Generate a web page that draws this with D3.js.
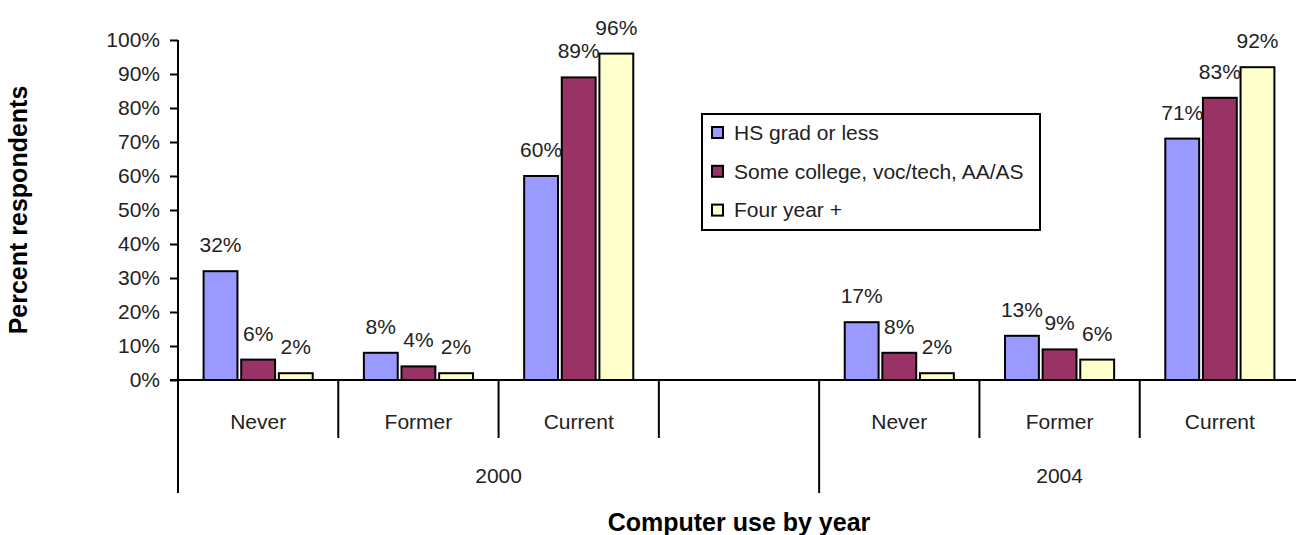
<!DOCTYPE html>
<html>
<head>
<meta charset="utf-8">
<script src="https://cdn.jsdelivr.net/npm/d3@7"></script>
<style>
  html, body { margin: 0; padding: 0; background: #fff; }
  svg { display: block; font-family: "Liberation Sans", Arial, sans-serif; }
</style>
</head>
<body>
<svg id="chart" width="1296" height="535"></svg>
<script>
// ---- data ----
const years = ["2000", "2004"];
const usage = ["Never", "Former", "Current"];
const series = ["HS grad or less", "Some college, voc/tech, AA/AS", "Four year +"];
const colors = ["#9999FF", "#993366", "#FFFFCC"];
// values in percent, per series, in order 2000 Never/Former/Current, 2004 Never/Former/Current
const hsGrad      = [32, 8, 60, 17, 13, 71];
const someCollege = [6, 4, 89, 8, 9, 83];
const fourYear    = [2, 2, 96, 2, 6, 92];
const yTicks = [0, 10, 20, 30, 40, 50, 60, 70, 80, 90, 100];

// ---- layout ----
const svg = d3.select("#chart");
const plotL = 178, plotR = 1300, plotT = 40, plotB = 380;

// 7 slots: 3 for 2000, 1 empty, 3 for 2004
const slots = [];
years.forEach((yr, yi) => {
  usage.forEach(u => slots.push({ key: yr + "-" + u, year: yr, usage: u }));
  if (yi === 0) slots.push({ key: "gap", year: yr, usage: "" });
});
const x = d3.scaleBand().domain(slots.map(d => d.key)).range([plotL, plotR]).padding(0);
const xs = d3.scaleBand().domain(series).range([0, x.bandwidth()]).paddingInner(0.1).paddingOuter(0.68);
const y = d3.scaleLinear().domain([0, 100]).range([plotB, plotT]);

const allSeries = [hsGrad, someCollege, fourYear];
const dataSlots = slots.filter(s => s.key !== "gap");
const bars = [];
allSeries.forEach((vals, si) => {
  vals.forEach((v, i) => bars.push({ slot: dataSlots[i].key, series: series[si], color: colors[si], value: v }));
});

// ---- y axis ----
const yAxis = d3.axisLeft(y).tickValues(yTicks).tickSize(8).tickPadding(10).tickFormat(d => d + "%");
const gy = svg.append("g").attr("transform", `translate(${plotL},0)`).call(yAxis);
gy.select(".domain").attr("stroke", "#000").attr("stroke-width", 2).attr("d", `M0,${plotT}V${plotB}`);
gy.selectAll(".tick line").attr("stroke", "#000").attr("stroke-width", 2);
gy.selectAll(".tick text").attr("fill", "#222").style("font-size", "21px")
  .style("font-family", "'Liberation Sans', Arial, sans-serif");

// ---- bars ----
svg.append("g").selectAll("rect").data(bars).join("rect")
  .attr("x", d => x(d.slot) + xs(d.series))
  .attr("y", d => y(d.value))
  .attr("width", xs.bandwidth())
  .attr("height", d => y(0) - y(d.value))
  .attr("fill", d => d.color)
  .attr("stroke", "#000")
  .attr("stroke-width", 2);

// data labels
svg.append("g").selectAll("text").data(bars).join("text")
  .attr("x", d => x(d.slot) + xs(d.series) + xs.bandwidth() / 2)
  .attr("y", d => y(d.value) - 19)
  .attr("text-anchor", "middle")
  .attr("fill", "#222")
  .style("font-size", "21px")
  .text(d => d.value + "%");

// ---- x axis (horizontal line) ----
svg.append("line")
  .attr("x1", plotL - 8).attr("x2", plotR)
  .attr("y1", y(0)).attr("y2", y(0))
  .attr("stroke", "#000").attr("stroke-width", 2);

// slot boundary ticks
const boundaries = slots.map(s => x(s.key)).concat([plotR]);
const groupBounds = [x(slots[0].key), x("2004-Never"), plotR];
svg.append("g").selectAll("line").data(boundaries).join("line")
  .attr("x1", d => d).attr("x2", d => d)
  .attr("y1", y(0))
  .attr("y2", d => groupBounds.some(g => Math.abs(g - d) < 0.5) ? 493 : 438)
  .attr("stroke", "#000").attr("stroke-width", 2);

// category labels
svg.append("g").selectAll("text").data(dataSlots).join("text")
  .attr("x", d => x(d.key) + x.bandwidth() / 2)
  .attr("y", 429)
  .attr("text-anchor", "middle")
  .attr("fill", "#222")
  .style("font-size", "21px")
  .text(d => d.usage);

// year labels
const yearRanges = [[groupBounds[0], groupBounds[1]], [groupBounds[1], groupBounds[2]]];
svg.append("g").selectAll("text").data(years).join("text")
  .attr("x", (d, i) => (yearRanges[i][0] + yearRanges[i][1]) / 2)
  .attr("y", 483)
  .attr("text-anchor", "middle")
  .attr("fill", "#222")
  .style("font-size", "21px")
  .text(d => d);

// ---- axis titles ----
svg.append("text")
  .attr("x", (plotL + plotR) / 2)
  .attr("y", 531)
  .attr("text-anchor", "middle")
  .style("font-size", "25px").style("font-weight", "bold")
  .attr("fill", "#000")
  .text("Computer use by year");

svg.append("text")
  .attr("transform", `translate(27,${(plotT + plotB) / 2}) rotate(-90)`)
  .attr("text-anchor", "middle")
  .style("font-size", "25px").style("font-weight", "bold")
  .attr("fill", "#000")
  .text("Percent respondents");

// ---- legend ----
const lg = svg.append("g").attr("transform", "translate(702,114)");
lg.append("rect").attr("width", 338).attr("height", 116)
  .attr("fill", "#fff").attr("stroke", "#000").attr("stroke-width", 2);
const items = lg.selectAll("g.item").data(series).join("g")
  .attr("class", "item")
  .attr("transform", (d, i) => `translate(0,${18.5 + i * 38.8})`);
items.append("rect").attr("x", 10).attr("y", -5.5).attr("width", 11).attr("height", 11)
  .attr("fill", (d, i) => colors[i]).attr("stroke", "#000").attr("stroke-width", 2);
items.append("text").attr("x", 32).attr("y", 0).attr("dy", "0.35em")
  .attr("fill", "#222").style("font-size", "21px")
  .text(d => d);
</script>
</body>
</html>
